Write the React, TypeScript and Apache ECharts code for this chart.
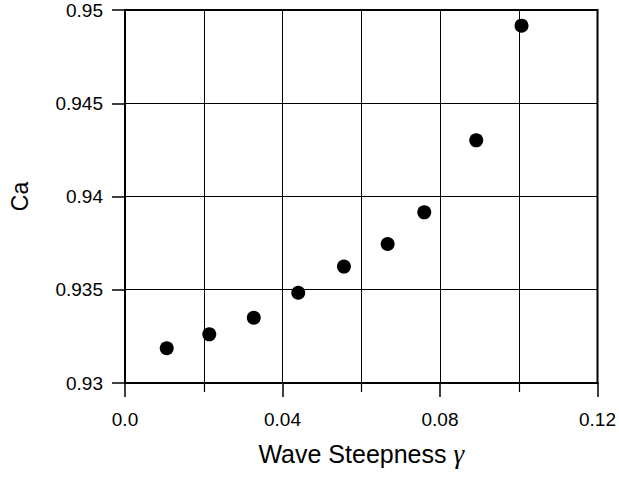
import React, { useEffect, useRef } from "react";
import * as echarts from "echarts";

const steepness = [0.0106, 0.0214, 0.0327, 0.044, 0.0556, 0.0667, 0.076, 0.0892, 0.1007];
const caValues = [0.93186, 0.93261, 0.9335, 0.93484, 0.93624, 0.93745, 0.93915, 0.94301, 0.94916];
const xTicks = [0, 0.04, 0.08, 0.12];
const yTicks = [0.93, 0.935, 0.94, 0.945, 0.95];

export default function App() {
  const ref = useRef<HTMLDivElement>(null);
  useEffect(() => {
    if (!ref.current) return;
    const chart = echarts.init(ref.current, null, { renderer: "svg" });
    const font = "Liberation Sans";
    chart.setOption({
      animation: false,
      backgroundColor: "#ffffff",
      grid: {
        left: 122,
        right: 21,
        top: 10,
        bottom: 97,
        show: true,
        borderColor: "#000",
        borderWidth: 2,
      },
      xAxis: {
        type: "value",
        min: xTicks[0],
        max: xTicks[xTicks.length - 1],
        interval: 0.04,
        name: "Wave Steepness {g|γ}",
        nameLocation: "middle",
        nameGap: 57,
        nameTextStyle: {
          fontFamily: font,
          fontSize: 25,
          color: "#000",
          rich: { g: { fontFamily: "Liberation Serif", fontStyle: "italic", fontSize: 27, color: "#000" } },
        },
        axisLine: { show: true, onZero: false, lineStyle: { color: "#000", width: 2 } },
        axisTick: { show: true, inside: false, length: 14, lineStyle: { color: "#000", width: 1.5 } },
        minorTick: { show: true, splitNumber: 2, length: 9, lineStyle: { color: "#000", width: 1.2 } },
        splitLine: { show: true, lineStyle: { color: "#000", width: 1 } },
        minorSplitLine: { show: true, lineStyle: { color: "#000", width: 1 } },
        axisLabel: {
          margin: 27,
          fontFamily: font,
          fontSize: 19,
          color: "#000",
          formatter: (v: number) => (v === 0 ? "0.0" : String(parseFloat(v.toFixed(2)))),
        },
      },
      yAxis: {
        type: "value",
        min: yTicks[0],
        max: yTicks[yTicks.length - 1],
        interval: 0.005,
        name: "Ca",
        nameLocation: "middle",
        nameGap: 94,
        nameRotate: 90,
        nameTextStyle: { fontFamily: font, fontSize: 23, color: "#000" },
        axisLine: { show: true, onZero: false, lineStyle: { color: "#000", width: 2 } },
        axisTick: { show: true, inside: false, length: 13, lineStyle: { color: "#000", width: 1.5 } },
        splitLine: { show: true, lineStyle: { color: "#000", width: 1 } },
        axisLabel: {
          margin: 22,
          fontFamily: font,
          fontSize: 19,
          color: "#000",
          formatter: (v: number) => String(parseFloat(v.toFixed(3))),
        },
      },
      series: [
        {
          type: "scatter",
          data: steepness.map((x, i) => [x, caValues[i]]),
          symbol: "circle",
          symbolSize: 14,
          itemStyle: { color: "#000", opacity: 1 },
        },
      ],
    });
    return () => chart.dispose();
  }, []);
  return <div ref={ref} style={{ width: 619, height: 480, position: "absolute", left: 0, top: 0 }} />;
}
